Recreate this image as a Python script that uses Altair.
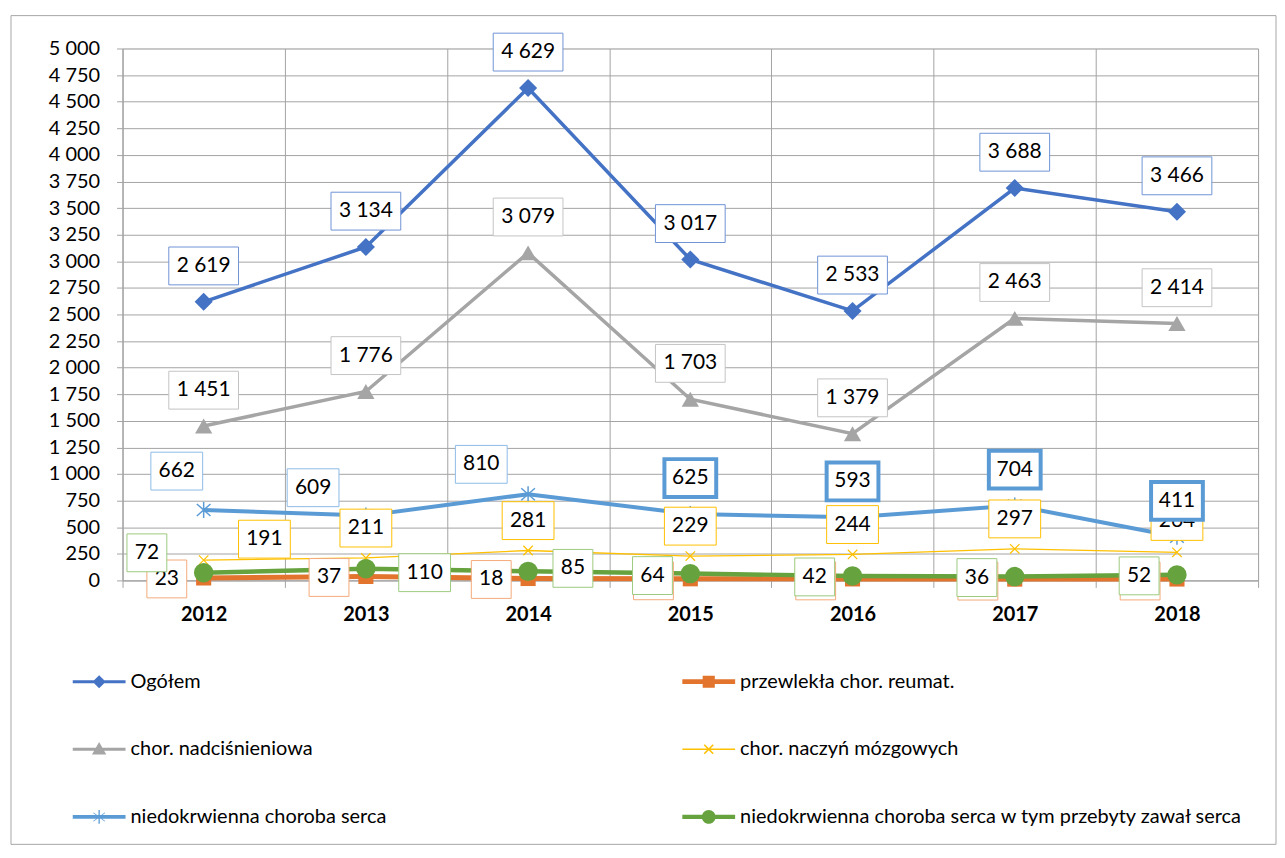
import altair as alt
import pandas as pd

# ---------------- data ----------------
YEARS = ["2012", "2013", "2014", "2015", "2016", "2017", "2018"]
SERIES = [
    "Ogółem",
    "przewlekła chor. reumat.",
    "chor. nadciśnieniowa",
    "chor. naczyń mózgowych",
    "niedokrwienna choroba serca",
    "niedokrwienna choroba serca w tym przebyty zawał serca",
]
OGOLEM = [2619, 3134, 4629, 3017, 2533, 3688, 3466]
REUMAT = [23, 37, 18, 15, 14, 12, 13]
NADCISN = [1451, 1776, 3079, 1703, 1379, 2463, 2414]
MOZG = [191, 211, 281, 229, 244, 297, 264]
NIEDOKR = [662, 609, 810, 625, 593, 704, 411]
ZAWAL = [72, 110, 85, 64, 42, 36, 52]
VALUES = [OGOLEM, REUMAT, NADCISN, MOZG, NIEDOKR, ZAWAL]

# ---------------- styles ----------------
FONT = "Lato"
COLORS = ["#4472C4", "#E2742E", "#A5A5A5", "#FFC000", "#5B9BD5", "#66A33E"]
LINE_W = [3.5, 5, 3.5, 1.3, 4, 4.5]
BOX_STROKE = ["#6F93D6", "#F4A97A", "#C4C4C4", "#FFC000", "#8DBBE6", "#9CCB7E"]
X_PATH = "M-1,-1L1,1M-1,1L1,-1"
AST_PATH = "M0,-1L0,1M-0.85,-0.75L0.85,0.75M-0.85,0.75L0.85,-0.75"
MARKERS = [
    dict(shape="diamond", size=330, filled=True),
    dict(shape="square", size=230, filled=True),
    dict(shape="triangle-up", size=300, filled=True),
    dict(shape=X_PATH, size=90, filled=False, strokeWidth=1.2),
    dict(shape=AST_PATH, size=260, filled=False, strokeWidth=1.5),
    dict(shape="circle", size=380, filled=True),
]
# label box offsets relative to the data point (pixels)
LABEL_DX = [
    [0, 0, 0, 0, 0, 0, 0],
    [-37, -37, -37, -37, -37, -37, -37],
    [0, 0, 0, 0, 0, 0, 0],
    [61, 0, 0, 0, 0, 0, 0],
    [-27, -53, -47, 0, 0, 0, 0],
    [-57, 59, 45, -38, -38, -38, -38],
]
LABEL_DY = [
    [-36, -36, -36, -36, -36, -36, -36],
    [1, 1, 1, 2, 2, 2, 2],
    [-36, -36, -36, -36, -36, -36, -36],
    [-21, -30, -30, -30, -30, -30, -31],
    [-39, -28, -30, -36, -36, -36, -36],
    [-20, 4, -3, 2, 1, 1, 1],
]
THICK = [[], [], [], [], [3, 4, 5, 6], []]
BOX_W = {5: 70, 3: 52, 2: 40}
BOX_H = 38
LEG_PATHS = [
    "M-1,-0.06H1V0.06H-1Z M0,-0.25L0.25,0L0,0.25L-0.25,0Z",
    "M-1,-0.09H1V0.09H-1Z M-0.23,-0.23H0.23V0.23H-0.23Z",
    "M-1,-0.06H1V0.06H-1Z M0,-0.27L0.27,0.2H-0.27Z",
    "M-1,-0.025H1V0.025H-1Z M-0.149,-0.191L0.191,0.149L0.149,0.191L-0.191,-0.149Z M0.149,-0.191L0.191,-0.149L-0.149,0.191L-0.191,0.149Z",
    "M-1,-0.07H1V0.07H-1Z M-0.025,-0.26H0.025V0.26H-0.025Z M-0.21,-0.17L0.23,0.15L0.21,0.17L-0.23,-0.15Z M0.21,-0.17L0.23,-0.15L-0.21,0.17L-0.23,0.15Z",
    "M-1,-0.08H1V0.08H-1Z M-0.26,0A0.26,0.26 0 1,1 0.26,0A0.26,0.26 0 1,1 -0.26,0Z",
]

W, H = 1140, 534
YMAX = 5000
HALF_BAND = W / len(YEARS) / 2


def fmt(v):
    return f"{v:,}".replace(",", " ")


X = alt.X(
    "year:O",
    scale=alt.Scale(type="band", domain=YEARS, paddingInner=0, paddingOuter=0),
    axis=alt.Axis(
        title=None, labelFont=FONT, labelFontSize=20, labelFontWeight="bold",
        labelColor="#000000", labelAngle=0, tickBand="extent", grid=True,
        gridColor="#A3A3A3", domainColor="#A3A3A3", tickColor="#A3A3A3",
        tickSize=7, labelPadding=17,
    ),
)
YSCALE = alt.Scale(domain=[0, YMAX], nice=False, zero=True)
YAXIS = alt.Axis(
    title=None, values=list(range(0, YMAX + 1, 250)),
    labelExpr="replace(format(datum.value, ','), ',', ' ')",
    labelFont=FONT, labelFontSize=20, labelColor="#000000",
    grid=True, gridColor="#A3A3A3", domainColor="#A3A3A3",
    tickColor="#A3A3A3", tickSize=6, labelPadding=17,
)
Y = alt.Y("value:Q", scale=YSCALE, axis=YAXIS)
YL = alt.Y("ylab:Q", scale=YSCALE, axis=YAXIS)
XO = alt.XOffset("xo:Q", scale=None)

frame = alt.Chart(pd.DataFrame({"k": [0]})).mark_rect(
    fillOpacity=0, stroke="#A6A6A6", strokeWidth=1
).encode(x=alt.value(-112), x2=alt.value(1158), y=alt.value(-33), y2=alt.value(799))

line_layers = []
label_layers = []
for i, name in enumerate(SERIES):
    rows = []
    for j, yr in enumerate(YEARS):
        lab = fmt(VALUES[i][j])
        thick = j in THICK[i]
        rows.append(dict(
            year=yr, value=VALUES[i][j], label=lab,
            dx=LABEL_DX[i][j], dy=LABEL_DY[i][j],
            cls="thick" if thick else str(BOX_W[len(lab)]),
        ))
    df = pd.DataFrame(rows)
    base = alt.Chart(df)
    line_layers.append(base.mark_line(color=COLORS[i], strokeWidth=LINE_W[i]).encode(x=X, y=Y))
    m = MARKERS[i]
    if m["filled"]:
        pt = base.mark_point(shape=m["shape"], size=m["size"], filled=True,
                             color=COLORS[i], opacity=1, strokeWidth=0)
    else:
        pt = base.mark_point(shape=m["shape"], size=m["size"], filled=False,
                             color=COLORS[i], opacity=1, strokeWidth=m["strokeWidth"])
    line_layers.append(pt.encode(x=X, y=Y))
    lbase = base.transform_calculate(
        ylab=f"datum.value - datum.dy * {YMAX} / {H}",
        xo=f"datum.dx + {HALF_BAND}",
    )
    for cls in sorted(df["cls"].unique()):
        if cls == "thick":
            bw, sw, sc = 52, 4, COLORS[4]
        else:
            bw, sw, sc = int(cls), 1, BOX_STROKE[i]
        path = f"M-1,{-BOX_H / bw:.4f}H1V{BOX_H / bw:.4f}H-1Z"
        label_layers.append(
            lbase.transform_filter(alt.datum.cls == cls).mark_point(
                shape=path, size=bw * bw, filled=True, fill="white", stroke=sc,
                strokeWidth=sw, opacity=1,
            ).encode(x=X, y=YL, xOffset=XO)
        )
    label_layers.append(
        lbase.mark_text(font=FONT, fontSize=21, color="#000000", align="center",
                        baseline="middle").encode(x=X, y=YL, xOffset=XO, text="label:N")
    )

leg_cfg = dict(
    title=None, orient="none", direction="horizontal", legendX=-50, legendY=609,
    columns=2, columnPadding=296, rowPadding=31, symbolSize=2809, symbolStrokeWidth=0,
    labelFont=FONT, labelFontSize=20, labelColor="#000000", labelOffset=5,
    labelLimit=700, symbolOpacity=1,
)
legend_df = pd.DataFrame({"series": SERIES, "year": [YEARS[0]] * len(SERIES),
                          "value": [-100000] * len(SERIES)})
legend_layer = alt.Chart(legend_df).mark_point(filled=True, opacity=1, clip=True).encode(
    x=X, y=Y,
    color=alt.Color("series:N", scale=alt.Scale(domain=SERIES, range=COLORS),
                    legend=alt.Legend(**leg_cfg)),
    shape=alt.Shape("series:N", scale=alt.Scale(domain=SERIES, range=LEG_PATHS),
                    legend=alt.Legend(**leg_cfg)),
)

chart = alt.layer(frame, *line_layers, *label_layers, legend_layer).properties(
    width=W, height=H, padding={"left": 2, "top": 5, "right": 0, "bottom": 0}
).configure_view(strokeWidth=0).configure(font=FONT)

chart.save("out.html", embed_options={"renderer": "svg", "actions": False})
